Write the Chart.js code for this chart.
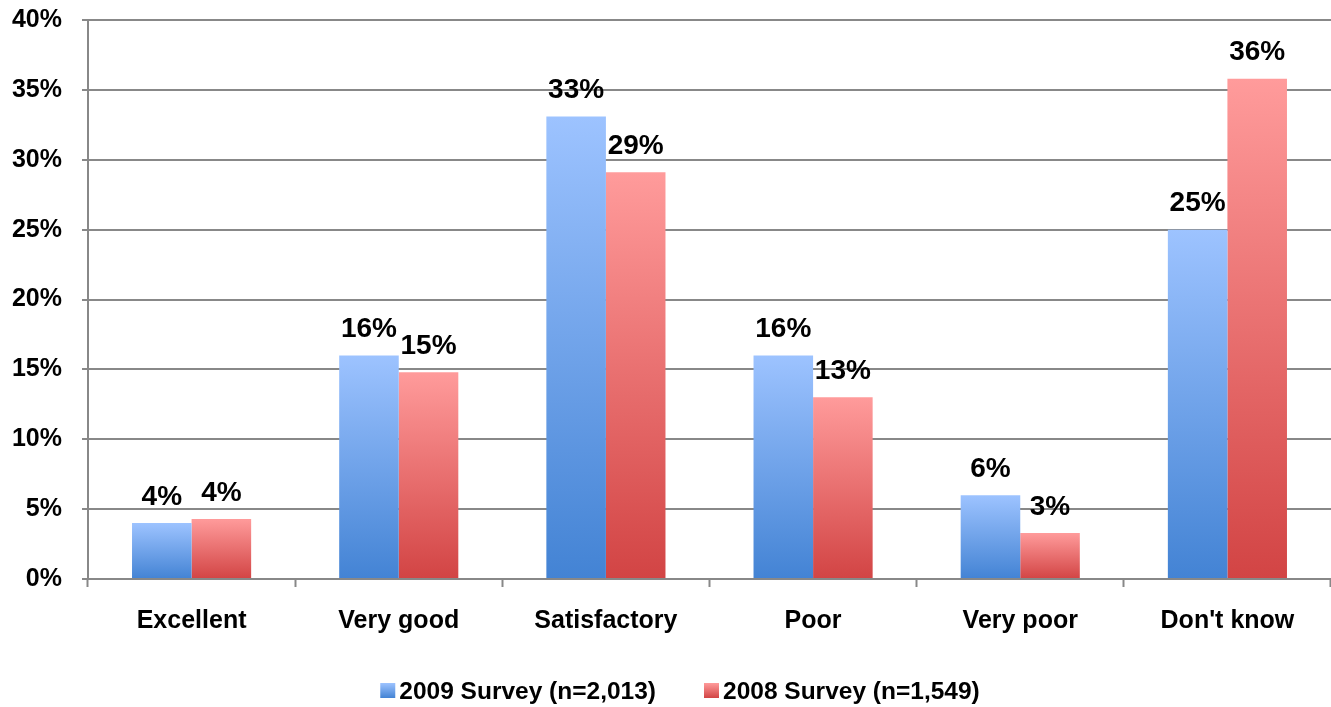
<!DOCTYPE html>
<html lang="en">
<head>
    <meta charset="UTF-8">
    <title>Survey Ratings</title>
    <script src="https://cdn.jsdelivr.net/npm/chart.js"></script>
    <style>
        html, body { margin: 0; padding: 0; background: #fff; overflow: hidden; }
        #wrap { width: 1331px; height: 707px; }
    </style>
</head>
<body>
    <div id="wrap"><canvas id="surveyChart"></canvas></div>

    <script>
        const categories = ['Excellent', 'Very good', 'Satisfactory', 'Poor', 'Very poor', "Don't know"];
        const survey2009 = [4.0, 16.0, 33.1, 16.0, 6.0, 25.0];
        const survey2008 = [4.3, 14.8, 29.1, 13.0, 3.3, 35.8];
        const yTicks = [0, 5, 10, 15, 20, 25, 30, 35, 40];

        const FONT = '"Liberation Sans", Arial, sans-serif';
        const GRID = '#888888';
        const BLUE = ['#9dc3ff', '#4383d4'];
        const RED = ['#ff9b9b', '#d24444'];

        // per-bar vertical gradient, light on top, darker at the base
        function barGradient(cols) {
            return function (ctx) {
                const chart = ctx.chart;
                if (!chart.chartArea || ctx.raw == null) return cols[1];
                const y = chart.scales.y;
                const y0 = y.getPixelForValue(ctx.raw);
                const y1 = y.getPixelForValue(0);
                const g = chart.ctx.createLinearGradient(0, y0, 0, y1);
                g.addColorStop(0, cols[0]);
                g.addColorStop(1, cols[1]);
                return g;
            };
        }

        const valueLabels = {
            id: 'valueLabels',
            afterDatasetsDraw(chart) {
                const c = chart.ctx;
                c.save();
                c.font = 'bold 28px ' + FONT;
                c.fillStyle = '#000';
                c.textAlign = 'center';
                c.textBaseline = 'bottom';
                chart.data.datasets.forEach((ds, i) => {
                    chart.getDatasetMeta(i).data.forEach((bar, j) => {
                        c.fillText(Math.round(ds.data[j]) + '%', bar.x, bar.y - 12);
                    });
                });
                c.restore();
            }
        };

        // legend drawn by hand so box/text spacing matches the original
        const bottomLegend = {
            id: 'bottomLegend',
            afterDraw(chart) {
                const c = chart.ctx;
                const cy = 691, box = 15, gap = 4, between = 48;
                c.save();
                c.font = 'bold 24.5px ' + FONT;
                c.textBaseline = 'middle';
                c.textAlign = 'left';
                const items = chart.data.datasets.map(ds => ({ text: ds.label, w: c.measureText(ds.label).width, cols: ds.legendColors }));
                let total = 0;
                items.forEach((it, i) => { total += box + gap + it.w + (i ? between : 0); });
                let x = 680 - total / 2;
                items.forEach(it => {
                    const g = c.createLinearGradient(0, cy - 8, 0, cy + 7);
                    g.addColorStop(0, it.cols[0]);
                    g.addColorStop(1, it.cols[1]);
                    c.fillStyle = g;
                    c.fillRect(x, cy - 8, box, box);
                    c.fillStyle = '#000';
                    c.fillText(it.text, x + box + gap, cy + 1);
                    x += box + gap + it.w + between;
                });
                c.restore();
            }
        };

        new Chart(document.getElementById('surveyChart'), {
            type: 'bar',
            data: {
                labels: categories,
                datasets: [{
                    label: '2009 Survey (n=2,013)',
                    data: survey2009,
                    legendColors: BLUE,
                    backgroundColor: barGradient(BLUE),
                    borderWidth: 0
                }, {
                    label: '2008 Survey (n=1,549)',
                    data: survey2008,
                    legendColors: RED,
                    backgroundColor: barGradient(RED),
                    borderWidth: 0
                }]
            },
            options: {
                responsive: true,
                maintainAspectRatio: false,
                animation: false,
                datasets: {
                    bar: { barPercentage: 1.0, categoryPercentage: 0.575 }
                },
                layout: { padding: { top: 20, right: 0, left: 0, bottom: 58 } },
                scales: {
                    x: {
                        grid: {
                            drawOnChartArea: false,
                            drawTicks: true,
                            tickLength: 8,
                            tickColor: GRID,
                            tickWidth: 2
                        },
                        border: { color: GRID, width: 2 },
                        ticks: {
                            color: '#000',
                            padding: 19,
                            font: { family: FONT, size: 25, weight: 'bold' }
                        },
                        afterFit(scale) { scale.height = 70; }
                    },
                    y: {
                        min: 0,
                        max: 40,
                        afterBuildTicks(scale) {
                            scale.ticks = yTicks.map(v => ({ value: v }));
                        },
                        grid: {
                            color: GRID,
                            lineWidth: 2,
                            tickLength: 6
                        },
                        border: { color: GRID, width: 2 },
                        ticks: {
                            color: '#000',
                            padding: 20,
                            font: { family: FONT, size: 25, weight: 'bold' },
                            callback: v => v + '%'
                        },
                        afterFit(scale) {
                            scale.width = 88;
                            scale.paddingTop = 0;
                            scale.paddingBottom = 0;
                        }
                    }
                },
                plugins: {
                    legend: { display: false },
                    tooltip: { enabled: false }
                }
            },
            plugins: [valueLabels, bottomLegend]
        });
    </script>
</body>
</html>
